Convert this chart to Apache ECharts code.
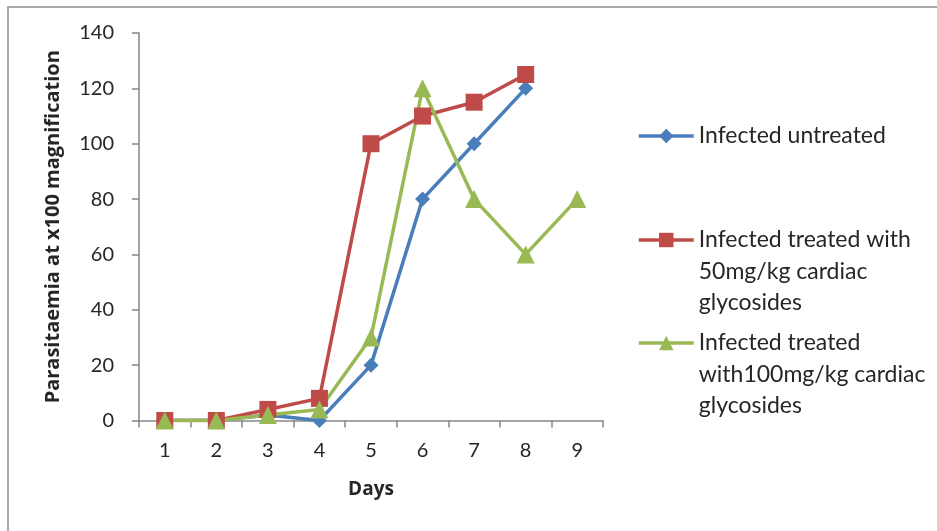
<!DOCTYPE html>
<html>
<head>
<meta charset="utf-8">
<title>Parasitaemia by day</title>
<script src="https://cdn.jsdelivr.net/npm/echarts@6/dist/echarts.min.js"></script>
<style>
  html, body { margin: 0; padding: 0; background: #ffffff; }
  #chart { width: 937px; height: 531px; }
</style>
</head>
<body>
<div id="chart"></div>
<script>
// Days of observation
const days = ['1', '2', '3', '4', '5', '6', '7', '8', '9'];

// Parasitaemia counts at x100 magnification ('-' = not recorded)
const untreated = [0, 0, 2, 0, 20, 80, 100, 120, '-'];
const treated50 = [0, 0, 4, 8, 100, 110, 115, 125, '-'];
const treated100 = [0, 0, 2, 4, 30, 120, 80, 60, 80];

const seriesNames = [
  'Infected untreated',
  'Infected treated with\n50mg/kg cardiac\nglycosides',
  'Infected treated\nwith100mg/kg cardiac\nglycosides'
];

const yTicks = { min: 0, max: 140, interval: 20 };

const FONT = 'Lato, "Open Sans", sans-serif';
const TITLE_FONT = '"Open Sans", Lato, sans-serif';
const TEXT = '#262626';
const AXIS = '#868686';
const LEGEND_LH = 31.5;

// Legend text is centred on its icon; blank lines above a multi-line
// label keep the first line level with the icon.
function legendFor(name, iconCenterY) {
  const lines = name.split('\n').length;
  const pad = '\n'.repeat(lines - 1);
  const totalLines = lines + (lines - 1);
  return {
    data: [name],
    left: 637,
    top: iconCenterY - totalLines * LEGEND_LH / 2,
    padding: 0,
    itemWidth: 55,
    itemHeight: 18,
    itemGap: 2,
    selectedMode: false,
    formatter: function (n) { return pad + n; },
    lineStyle: { width: 3.5 },
    textStyle: {
      fontFamily: FONT,
      fontSize: 23,
      color: TEXT,
      lineHeight: LEGEND_LH
    }
  };
}

const chart = echarts.init(document.getElementById('chart'), null, { renderer: 'canvas' });

chart.setOption({
  animation: false,
  backgroundColor: '#ffffff',
  graphic: [{
    type: 'rect',
    shape: { x: 8, y: 7, width: 1200, height: 800 },
    style: { fill: 'none', stroke: '#a9a9a9', lineWidth: 2 },
    silent: true
  }],
  grid: { left: 139, top: 33, right: 334, bottom: 110.5, containLabel: false },
  legend: [
    legendFor(seriesNames[0], 136),
    legendFor(seriesNames[1], 240),
    legendFor(seriesNames[2], 343)
  ],
  xAxis: {
    type: 'category',
    data: days,
    boundaryGap: true,
    name: 'Days',
    nameLocation: 'middle',
    nameGap: 60,
    nameTextStyle: { fontFamily: TITLE_FONT, fontSize: 19, fontWeight: 'bold', color: TEXT },
    axisLine: { lineStyle: { color: AXIS, width: 1.5 } },
    axisTick: { show: true, length: 7, lineStyle: { color: AXIS, width: 1.5 } },
    axisLabel: { fontFamily: FONT, fontSize: 20, color: TEXT, margin: 20 },
    splitLine: { show: false }
  },
  yAxis: {
    type: 'value',
    min: yTicks.min,
    max: yTicks.max,
    interval: yTicks.interval,
    name: 'Parasitaemia at x100 magnification',
    nameLocation: 'middle',
    nameGap: 76,
    nameTextStyle: { fontFamily: TITLE_FONT, fontSize: 20, fontWeight: 'bold', color: TEXT },
    axisLine: { show: true, lineStyle: { color: AXIS, width: 1.5 } },
    axisTick: { show: true, length: 7, lineStyle: { color: AXIS, width: 1.5 } },
    axisLabel: { fontFamily: FONT, fontSize: 20, color: TEXT, margin: 25 },
    splitLine: { show: false }
  },
  series: [
    {
      name: seriesNames[0],
      type: 'line',
      data: untreated,
      symbol: 'diamond',
      symbolSize: 15,
      lineStyle: { width: 3.5, color: '#4a7ebb' },
      itemStyle: { color: '#4a7ebb' }
    },
    {
      name: seriesNames[1],
      type: 'line',
      data: treated50,
      symbol: 'rect',
      symbolSize: 17,
      lineStyle: { width: 3.5, color: '#be4b48' },
      itemStyle: { color: '#be4b48' }
    },
    {
      name: seriesNames[2],
      type: 'line',
      data: treated100,
      symbol: 'triangle',
      symbolSize: 18,
      lineStyle: { width: 3.5, color: '#98b954' },
      itemStyle: { color: '#98b954' }
    }
  ]
});
</script>
</body>
</html>
